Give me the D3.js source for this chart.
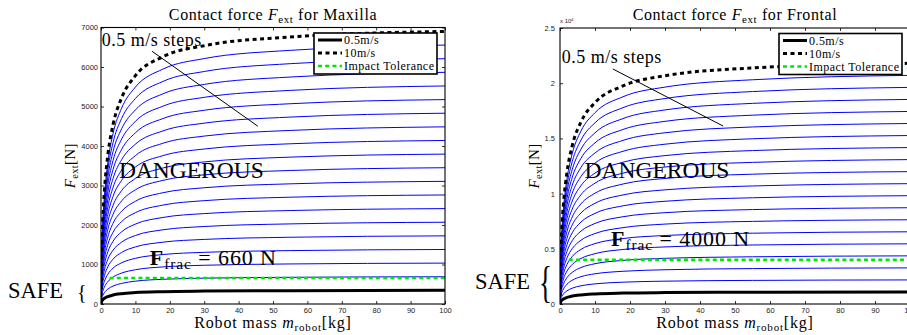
<!DOCTYPE html>
<html>
<head>
<meta charset="utf-8">
<style>
    body { margin: 0; background: #fff; }
    svg text { font-family: "Liberation Serif", "DejaVu Serif", serif; fill: #000; }
    .tick text { font-family: "Liberation Sans", Arial, sans-serif; font-size: 7.5px; fill: #222; letter-spacing: 0; }
    .tick line { stroke: #000; stroke-width: 0.8; }
</style>
</head>
<body>
<svg width="907" height="335"></svg>
<script src="https://d3js.org/d3.v7.min.js"></script>
<script>

    let masses = [0, 0.25, 0.5, 1, 2, 3.5, 6, 10, 18, 30, 55, 100];

    // impact velocities, 0.5 m/s steps
    let speeds = [0.5, 1, 1.5, 2, 2.5, 3, 3.5, 4, 4.5, 5, 5.5, 6, 6.5, 7, 7.5, 8, 8.5, 9, 9.5, 10];

    // contact force [N], one row per speed, one value per mass
    let maxillaForce = [
        [0, 77, 107, 144, 189, 227, 261, 289, 313, 327, 338, 345],
        [0, 154, 214, 288, 378, 454, 522, 578, 626, 654, 676, 690],
        [0, 231, 321, 432, 567, 681, 783, 867, 939, 981, 1014, 1035],
        [0, 308, 428, 576, 756, 908, 1044, 1156, 1252, 1308, 1352, 1380],
        [0, 385, 535, 720, 945, 1135, 1305, 1445, 1565, 1635, 1690, 1725],
        [0, 462, 642, 864, 1134, 1362, 1566, 1734, 1878, 1962, 2028, 2070],
        [0, 539, 749, 1008, 1323, 1589, 1827, 2023, 2191, 2289, 2366, 2415],
        [0, 616, 856, 1152, 1512, 1816, 2088, 2312, 2504, 2616, 2704, 2760],
        [0, 693, 963, 1296, 1701, 2043, 2349, 2601, 2817, 2943, 3042, 3105],
        [0, 770, 1070, 1440, 1890, 2270, 2610, 2890, 3130, 3270, 3380, 3450],
        [0, 847, 1177, 1584, 2079, 2497, 2871, 3179, 3443, 3597, 3718, 3795],
        [0, 924, 1284, 1728, 2268, 2724, 3132, 3468, 3756, 3924, 4056, 4140],
        [0, 1001, 1391, 1872, 2457, 2951, 3393, 3757, 4069, 4251, 4394, 4485],
        [0, 1078, 1498, 2016, 2646, 3178, 3654, 4046, 4382, 4578, 4732, 4830],
        [0, 1155, 1605, 2160, 2835, 3405, 3915, 4335, 4695, 4905, 5070, 5175],
        [0, 1232, 1712, 2304, 3024, 3632, 4176, 4624, 5008, 5232, 5408, 5520],
        [0, 1309, 1819, 2448, 3213, 3859, 4437, 4913, 5321, 5559, 5746, 5865],
        [0, 1386, 1926, 2592, 3402, 4086, 4698, 5202, 5634, 5886, 6084, 6210],
        [0, 1463, 2033, 2736, 3591, 4313, 4959, 5491, 5947, 6213, 6422, 6555],
        [0, 1540, 2140, 2880, 3780, 4540, 5220, 5780, 6260, 6540, 6760, 6900]
    ];

    let frontalForce = [
        [0, 244, 337, 456, 597, 717, 825, 912, 988, 1034, 1069, 1090],
        [0, 488, 674, 912, 1194, 1434, 1650, 1824, 1976, 2068, 2138, 2180],
        [0, 732, 1011, 1368, 1791, 2151, 2475, 2736, 2964, 3102, 3207, 3270],
        [0, 976, 1348, 1824, 2388, 2868, 3300, 3648, 3952, 4136, 4276, 4360],
        [0, 1220, 1685, 2280, 2985, 3585, 4125, 4560, 4940, 5170, 5345, 5450],
        [0, 1464, 2022, 2736, 3582, 4302, 4950, 5472, 5928, 6204, 6414, 6540],
        [0, 1708, 2359, 3192, 4179, 5019, 5775, 6384, 6916, 7238, 7483, 7630],
        [0, 1952, 2696, 3648, 4776, 5736, 6600, 7296, 7904, 8272, 8552, 8720],
        [0, 2196, 3033, 4104, 5373, 6453, 7425, 8208, 8892, 9306, 9621, 9810],
        [0, 2440, 3370, 4560, 5970, 7170, 8250, 9120, 9880, 10340, 10690, 10900],
        [0, 2684, 3707, 5016, 6567, 7887, 9075, 10032, 10868, 11374, 11759, 11990],
        [0, 2928, 4044, 5472, 7164, 8604, 9900, 10944, 11856, 12408, 12828, 13080],
        [0, 3172, 4381, 5928, 7761, 9321, 10725, 11856, 12844, 13442, 13897, 14170],
        [0, 3416, 4718, 6384, 8358, 10038, 11550, 12768, 13832, 14476, 14966, 15260],
        [0, 3660, 5055, 6840, 8955, 10755, 12375, 13680, 14820, 15510, 16035, 16350],
        [0, 3904, 5392, 7296, 9552, 11472, 13200, 14592, 15808, 16544, 17104, 17440],
        [0, 4148, 5729, 7752, 10149, 12189, 14025, 15504, 16796, 17578, 18173, 18530],
        [0, 4392, 6066, 8208, 10746, 12906, 14850, 16416, 17784, 18612, 19242, 19620],
        [0, 4636, 6403, 8664, 11343, 13623, 15675, 17328, 18772, 19646, 20311, 20710],
        [0, 4880, 6740, 9120, 11940, 14340, 16500, 18240, 19760, 20680, 21380, 21800]
    ];

    // fracture tolerance [N] and the mass where the tolerance line starts
    let maxillaTolerance = 660,
        frontalTolerance = 4000,
        toleranceFrom = 2.5;

    let massTicks = [0, 10, 20, 30, 40, 50, 60, 70, 80, 90, 100];
    let maxillaTicks = [0, 1000, 2000, 3000, 4000, 5000, 6000, 7000];
    let frontalTicks = [0, 5000, 10000, 15000, 20000, 25000];
    let frontalTickLabels = ["0", "0.5", "1", "1.5", "2", "2.5"];
    let legendLabels = ["0.5m/s", "10m/s", "Impact Tolerance"];

    let svg = d3.select("svg");

    let panels = [
        {
            name: "Maxilla", force: maxillaForce, tolerance: maxillaTolerance,
            yMax: 7000, ticks: maxillaTicks, tickLabels: maxillaTicks.map(String),
            left: 101, right: 445, top: 27.5, bottom: 304,
            yLabelX: 75, stepsAt: [0.2, 6530], arrow: [[14.8, 6400], [45.6, 4500]],
            dangerAt: [5.2, 3190], fracAt: [14.2, 990]
        },
        {
            name: "Frontal", force: frontalForce, tolerance: frontalTolerance,
            yMax: 25000, ticks: frontalTicks, tickLabels: frontalTickLabels,
            left: 560, right: 910, top: 28, bottom: 304,
            yLabelX: 539, stepsAt: [0.5, 21830], arrow: [[15.1, 21290], [46.6, 16120]],
            dangerAt: [7.0, 11410], fracAt: [14.6, 5250], exponent: true
        }
    ];

    panels.forEach(drawPanel);

    // SAFE labels with braces, outside the plot boxes
    svg.append("text").attr("x", 8).attr("y", 298).style("font-size", "22.5px").text("SAFE");
    svg.append("text").attr("x", 77).attr("y", 299).style("font-size", "20px").text("{");
    svg.append("text").attr("x", 475).attr("y", 289).style("font-size", "22.5px").text("SAFE");
    svg.append("text")
        .attr("transform", "translate(539,297) scale(0.6,1)")
        .style("font-size", "45px")
        .text("{");

    function rich(sel, parts) {
        parts.forEach(function (p) {
            let t = sel.append("tspan").text(p.t);
            if (p.i) t.style("font-style", "italic");
            if (p.b) t.style("font-weight", "bold");
            if (p.size) t.style("font-size", p.size);
            if (p.dy) t.attr("dy", p.dy);
        });
        return sel;
    }

    function drawPanel(p, idx) {
        let x = d3.scaleLinear().domain([0, 100]).range([p.left, p.right]);
        let y = d3.scaleLinear().domain([0, p.yMax]).range([p.bottom, p.top]);

        let g = svg.append("g");

        g.append("clipPath").attr("id", "clip" + idx)
            .append("rect")
            .attr("x", p.left).attr("y", p.top)
            .attr("width", p.right - p.left).attr("height", p.bottom - p.top);

        let line = d3.line()
            .x(function (d, i) { return x(masses[i]); })
            .y(function (d) { return y(d); })
            .curve(d3.curveMonotoneX);

        let plot = g.append("g").attr("clip-path", "url(#clip" + idx + ")");

        // blue curves for the intermediate speeds
        plot.selectAll(".speed")
            .data(p.force.slice(1, speeds.length - 1))
            .enter().append("path")
            .attr("class", "speed")
            .attr("d", line)
            .attr("fill", "none")
            .attr("stroke", "#0000ff")
            .attr("stroke-width", 1);

        // impact tolerance
        plot.append("line")
            .attr("x1", x(toleranceFrom)).attr("x2", x(100))
            .attr("y1", y(p.tolerance)).attr("y2", y(p.tolerance))
            .attr("stroke", "#00e600")
            .attr("stroke-width", 2.6)
            .attr("stroke-dasharray", "4,3.2");

        // 0.5 m/s
        plot.append("path")
            .attr("d", line(p.force[0]))
            .attr("fill", "none")
            .attr("stroke", "#000")
            .attr("stroke-width", 3);

        // 10 m/s
        plot.append("path")
            .attr("d", line(p.force[speeds.length - 1]))
            .attr("fill", "none")
            .attr("stroke", "#000")
            .attr("stroke-width", 3)
            .attr("stroke-dasharray", "4,3.5");

        // axes, ticks pointing inwards
        g.append("g").attr("transform", "translate(0," + p.bottom + ")")
            .call(d3.axisBottom(x).tickValues(massTicks).tickSizeInner(-3).tickSizeOuter(0).tickPadding(4));
        g.append("g").attr("transform", "translate(0," + p.top + ")")
            .call(d3.axisTop(x).tickValues(massTicks).tickSizeInner(-3).tickSizeOuter(0).tickFormat(""));
        g.append("g").attr("transform", "translate(" + p.left + ",0)")
            .call(d3.axisLeft(y).tickValues(p.ticks).tickSizeInner(-3).tickSizeOuter(0)
                .tickPadding(p.exponent ? 5 : 3)
                .tickFormat(function (d, i) { return p.tickLabels[i]; }));
        g.append("g").attr("transform", "translate(" + p.right + ",0)")
            .call(d3.axisRight(y).tickValues(p.ticks).tickSizeInner(-3).tickSizeOuter(0).tickFormat(""));
        g.selectAll(".domain").remove();

        g.append("rect")
            .attr("x", p.left).attr("y", p.top)
            .attr("width", p.right - p.left).attr("height", p.bottom - p.top)
            .attr("fill", "none").attr("stroke", "#000").attr("stroke-width", 1.1);

        if (p.exponent) {
            rich(g.append("text").attr("x", p.left).attr("y", p.top - 5)
                .style("font-family", "'Liberation Sans', Arial, sans-serif")
                .style("font-size", "6px").style("fill", "#222"),
                [{t: "x 10"}, {t: "4", size: "4px", dy: -2.5}]);
        }

        // title and axis labels
        let mid = (p.left + p.right) / 2;
        rich(g.append("text").attr("x", mid).attr("y", 20)
            .attr("text-anchor", "middle").style("font-size", "16px").style("letter-spacing", "0.6px"),
            [{t: "Contact force "}, {t: "F", i: true}, {t: "ext", size: "11px", dy: 3},
             {t: " for " + p.name, dy: -3}]);

        rich(g.append("text").attr("x", mid).attr("y", 328)
            .attr("text-anchor", "middle").style("font-size", "16px").style("letter-spacing", "0.8px"),
            [{t: "Robot mass "}, {t: "m", i: true}, {t: "robot", size: "11px", dy: 3},
             {t: "[kg]", dy: -3}]);

        rich(g.append("text")
            .attr("transform", "translate(" + p.yLabelX + "," + ((p.top + p.bottom) / 2) + ") rotate(-90)")
            .attr("text-anchor", "middle").style("font-size", "15px").style("letter-spacing", "0.3px"),
            [{t: "F", i: true}, {t: "ext", size: "10.5px", dy: 3}, {t: "[N]", dy: -3}]);

        // annotations
        g.append("line")
            .attr("x1", x(p.arrow[0][0])).attr("y1", y(p.arrow[0][1]))
            .attr("x2", x(p.arrow[1][0])).attr("y2", y(p.arrow[1][1]))
            .attr("stroke", "#000").attr("stroke-width", 1);

        g.append("text")
            .attr("x", x(p.stepsAt[0])).attr("y", y(p.stepsAt[1]))
            .style("font-size", "18px").style("letter-spacing", "0.5px")
            .text("0.5 m/s steps");

        g.append("text")
            .attr("x", x(p.dangerAt[0])).attr("y", y(p.dangerAt[1]))
            .style("font-size", "23.5px")
            .text("DANGEROUS");

        rich(g.append("text")
            .attr("x", x(p.fracAt[0])).attr("y", y(p.fracAt[1]))
            .style("font-size", "22px").style("letter-spacing", "0.9px"),
            [{t: "F", b: true}, {t: "frac", size: "15.5px", dy: 4},
             {t: " = " + p.tolerance + " N", dy: -4}]);

        // legend
        let lx = p.right - 131, ly = p.top + 5.5;
        let lg = g.append("g").attr("transform", "translate(" + lx + "," + ly + ")");
        lg.append("rect")
            .attr("width", 123).attr("height", 41)
            .attr("fill", "#fff").attr("stroke", "#000").attr("stroke-width", 1.6);

        let legendStyles = [
            {color: "#000", dash: null, width: 3},
            {color: "#000", dash: "4,3.5", width: 3},
            {color: "#00e600", dash: "4,3.2", width: 2.6}
        ];

        let rows = lg.selectAll(".entry")
            .data(legendLabels)
            .enter().append("g")
            .attr("class", "entry")
            .attr("transform", function (d, i) { return "translate(0," + (7 + i * 13) + ")"; });

        rows.append("line")
            .attr("x1", 4).attr("x2", 28)
            .attr("stroke", function (d, i) { return legendStyles[i].color; })
            .attr("stroke-width", function (d, i) { return legendStyles[i].width; })
            .attr("stroke-dasharray", function (d, i) { return legendStyles[i].dash; });

        rows.append("text")
            .attr("x", 30).attr("y", 4)
            .style("font-size", "12px").style("letter-spacing", "0.45px")
            .text(function (d) { return d; });
    }

</script>
</body>
</html>
